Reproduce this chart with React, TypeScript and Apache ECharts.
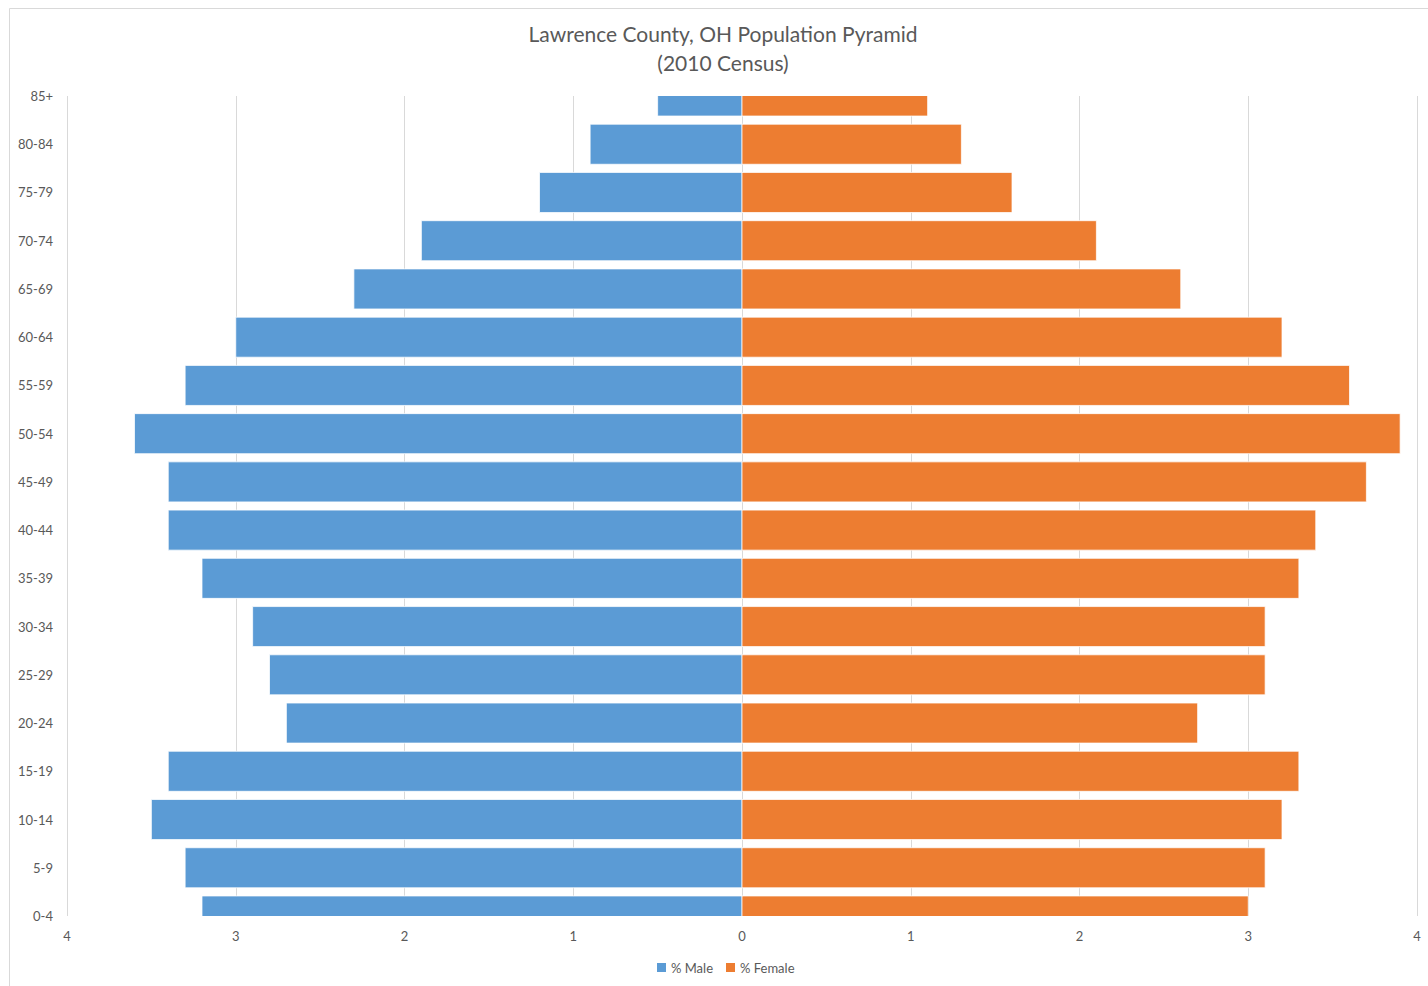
import React, { useEffect, useRef } from "react";
import * as echarts from "echarts";

const categories = ["0-4", "5-9", "10-14", "15-19", "20-24", "25-29", "30-34", "35-39", "40-44", "45-49", "50-54", "55-59", "60-64", "65-69", "70-74", "75-79", "80-84", "85+"];
const maleValues = [3.2, 3.3, 3.5, 3.4, 2.7, 2.8, 2.9, 3.2, 3.4, 3.4, 3.6, 3.3, 3.0, 2.3, 1.9, 1.2, 0.9, 0.5];
const femaleValues = [3.0, 3.1, 3.2, 3.3, 2.7, 3.1, 3.1, 3.3, 3.4, 3.7, 3.9, 3.6, 3.2, 2.6, 2.1, 1.6, 1.3, 1.1];
const titleLines = ["Lawrence County, OH Population Pyramid", "(2010 Census)"];

const FONT = "Lato, 'Open Sans', sans-serif";
const TEXT = "#595959";
const BLUE = "#5B9BD5";
const ORANGE = "#ED7D31";

function makeRender(color: string) {
  return (params: any, api: any) => {
    const v = api.value(0);
    const idx = api.value(1);
    const p0 = api.coord([0, idx]);
    const p1 = api.coord([v, idx]);
    const band = api.size([0, 1])[1];
    const h = band * 0.83;
    return {
      type: "rect",
      shape: {
        x: Math.min(p0[0], p1[0]),
        y: p0[1] - h / 2,
        width: Math.abs(p1[0] - p0[0]),
        height: h,
      },
      style: { fill: color, stroke: "#ffffff", lineWidth: 0.75 },
    };
  };
}

export default function App() {
  const ref = useRef<HTMLDivElement>(null);
  useEffect(() => {
    if (!ref.current) return;
    const chart = echarts.init(ref.current, undefined, { renderer: "svg" });
    chart.setOption({
      animation: false,
      backgroundColor: "#ffffff",
      textStyle: { fontFamily: FONT },
      title: {
        text: titleLines.join("\n"),
        left: 718,
        textAlign: "center",
        top: 14,
        textStyle: { fontFamily: FONT, fontSize: 21, fontWeight: "normal", color: TEXT, lineHeight: 29 },
      },
      graphic: [
        {
          type: "rect",
          shape: { x: 9.5, y: 8.5, width: 1428, height: 990 },
          style: { fill: "none", stroke: "#D9D9D9", lineWidth: 1 },
          silent: true,
        },
      ],
      legend: {
        bottom: 7,
        left: 652,
        icon: "rect",
        itemWidth: 9,
        itemHeight: 9,
        itemGap: 13,
        textStyle: { fontFamily: FONT, fontSize: 13, color: TEXT },
        data: ["% Male", "% Female"],
      },
      grid: { left: 67, right: 11, top: 96, bottom: 70, containLabel: false },
      xAxis: {
        type: "value",
        min: -4,
        max: 4,
        interval: 1,
        axisLine: { show: false },
        axisTick: { show: false },
        splitLine: { show: true, lineStyle: { color: "#D9D9D9", width: 1 } },
        axisLabel: {
          color: TEXT,
          fontFamily: FONT,
          fontSize: 13,
          margin: 13,
          formatter: (v: number) => String(Math.abs(v)),
        },
      },
      yAxis: {
        type: "category",
        data: categories,
        boundaryGap: false,
        axisLine: { show: false },
        axisTick: { show: false },
        splitLine: { show: false },
        axisLabel: { color: TEXT, fontFamily: FONT, fontSize: 13, margin: 14 },
      },
      series: [
        {
          name: "% Male",
          type: "custom",
          clip: true,
          encode: { x: 0, y: 1 },
          itemStyle: { color: BLUE },
          data: maleValues.map((v, i) => [-v, i]),
          renderItem: makeRender(BLUE),
        },
        {
          name: "% Female",
          type: "custom",
          clip: true,
          encode: { x: 0, y: 1 },
          itemStyle: { color: ORANGE },
          data: femaleValues.map((v, i) => [v, i]),
          renderItem: makeRender(ORANGE),
        },
      ],
    });
    return () => chart.dispose();
  }, []);
  return (
    <div
      ref={ref}
      style={{ position: "fixed", left: 0, top: 0, width: 1428, height: 986 }}
    />
  );
}
